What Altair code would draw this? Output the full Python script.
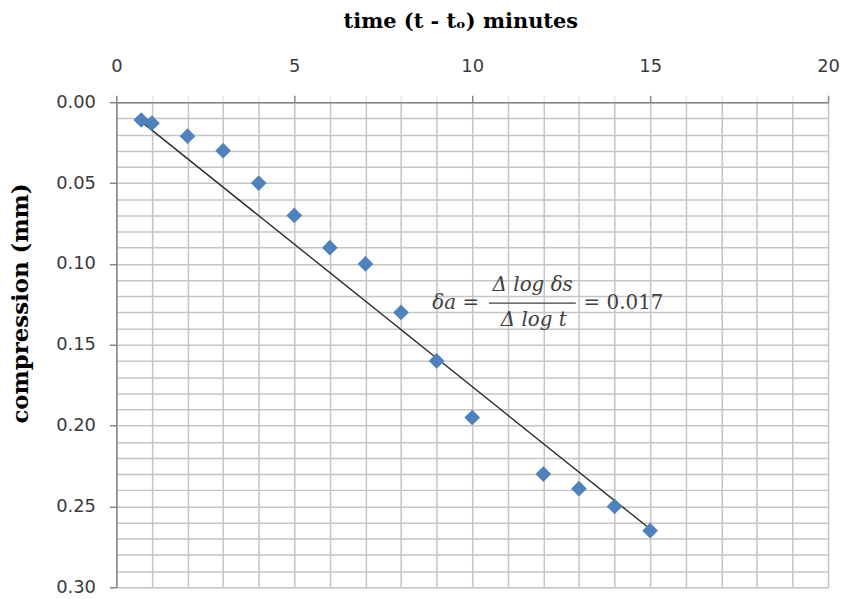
import altair as alt
import pandas as pd

# ---- data ----
time_min = [0.7, 1, 2, 3, 4, 5, 6, 7, 8, 9, 10, 12, 13, 14, 15]
compression_mm = [0.011, 0.013, 0.021, 0.030, 0.050, 0.070, 0.090, 0.100,
                  0.130, 0.160, 0.195, 0.230, 0.239, 0.250, 0.265]

fit_time = [0.7, 15]
fit_compression = [0.012, 0.264]

x_tick_values = list(range(0, 21))
y_tick_values = [round(i * 0.01, 2) for i in range(31)]

formula_parts = ["δa =", "Δ log δs", "Δ log t", "= 0.017"]
formula_x = [8.88, 11.70, 11.73, 13.13]
formula_y = [0.1242, 0.1131, 0.1346, 0.1242]
fraction_bar_x = [10.47, 12.91]
fraction_bar_y = [0.1242]

# ---- tables ----
pts = pd.DataFrame({"t": time_min, "c": compression_mm})
fit = pd.DataFrame({"t": fit_time, "c": fit_compression})
ann = pd.DataFrame({"t": formula_x, "c": formula_y, "txt": formula_parts})
bar = pd.DataFrame({"t": [fraction_bar_x[0]], "t2": [fraction_bar_x[1]], "c": fraction_bar_y})

xscale = alt.Scale(domain=[0, 20], nice=False, zero=False)
yscale = alt.Scale(domain=[0, 0.30], nice=False, zero=False, reverse=True)

AX = "#868686"
GRID = "#c4c4c4"
LAB = "#3a3a3a"

x_axis = alt.Axis(
    orient="top", values=x_tick_values,
    labelExpr="datum.value % 5 === 0 ? datum.label : ''",
    labelOverlap=False, labelFlush=False,
    labelFont="DejaVu Sans", labelFontSize=18, labelColor=LAB, labelPadding=20,
    grid=True, gridColor=GRID, gridWidth=1.5,
    tickSize=7, tickWidth=1.5,
    tickColor={"condition": {"test": "datum.value % 5 === 0", "value": AX}, "value": "#e6e6e6"},
    domainColor=AX, domainWidth=1.5,
    title="time (t - tₒ) minutes",
    titleFont="DejaVu Serif", titleFontSize=21, titleFontWeight="bold", titleColor="#000000",
    titleAnchor="middle", titleBaseline="middle", titleX=346, titleY=-81,
)

y_axis = alt.Axis(
    orient="left", values=y_tick_values, format=".2f",
    labelExpr="round(datum.value * 100) % 5 === 0 ? datum.label : ''",
    labelOverlap=False, labelFlush=False,
    labelFont="DejaVu Sans", labelFontSize=18, labelColor=LAB, labelPadding=14,
    grid=True, gridColor=GRID, gridWidth=1.5,
    tickSize=7, tickWidth=1.5,
    tickOpacity={"condition": {"test": "round(datum.value * 100) % 5 === 0", "value": 1}, "value": 0},
    tickColor=AX,
    domainColor=AX, domainWidth=1.5,
    title="compression (mm)",
    titleFont="DejaVu Serif", titleFontSize=23, titleFontWeight="bold", titleColor="#000000",
    titleAngle=-90, titleAlign="center", titleBaseline="middle", titleX=-96, titleY=202,
)

X = alt.X("t:Q", scale=xscale, axis=x_axis)
Y = alt.Y("c:Q", scale=yscale, axis=y_axis)

line = alt.Chart(fit).mark_line(color="#2b2b2b", strokeWidth=1.4).encode(x=X, y=Y)

points = alt.Chart(pts).mark_point(shape="diamond", filled=True, size=250,
                                   color="#4F81BD", opacity=1).encode(x=X, y=Y)

def txt(i, align, style):
    return alt.Chart(ann.iloc[i:i + 1]).mark_text(
        font="DejaVu Serif", fontSize=20, fontStyle=style, color="#404040",
        align=align, baseline="middle").encode(x=X, y=Y, text="txt:N")

t0 = txt(0, "left", "italic")
t1 = txt(1, "center", "italic")
t2 = txt(2, "center", "italic")
t3 = txt(3, "left", "normal")

fbar = alt.Chart(bar).mark_rule(color="#404040", strokeWidth=1.3).encode(
    x=X, x2="t2:Q", y=Y)

chart = alt.layer(line, points, t0, t1, t2, t3, fbar).properties(
    width=716, height=488,
    autosize=alt.AutoSizeParams(type="none"),
    padding={"left": 109, "top": 93, "right": 12, "bottom": 9},
).configure_view(stroke=AX, strokeWidth=1.5).configure(background="white")

chart.save("out.html", embed_options={"renderer": "svg", "actions": False})
